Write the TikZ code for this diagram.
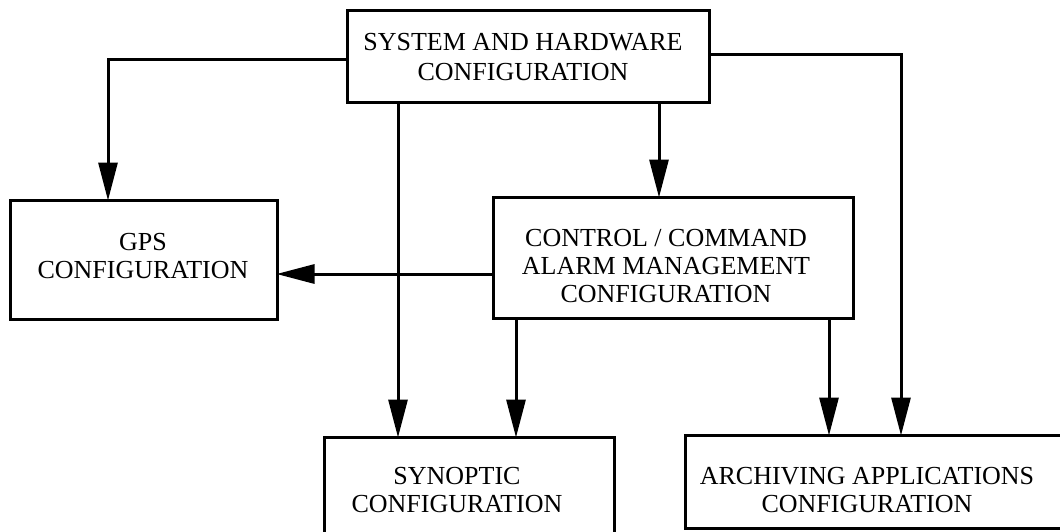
\documentclass[tikz,border=0pt]{standalone}
\usepackage{fontspec}
\setmainfont{Liberation Serif}
\usetikzlibrary{arrows.meta}
\begin{document}
\begin{tikzpicture}[x=1pt,y=-1pt,
  box/.style={draw,line width=3pt,inner sep=0pt,minimum width=#1},
  lbl/.style={inner sep=0pt,align=center,font=\fontsize{26}{28}\selectfont},
  arr/.style={line width=3pt,shorten >=-2pt,-{Triangle[length=38pt,width=19pt]}}]
\useasboundingbox (0,0) rectangle (1060,531);
\clip (0,0) rectangle (1060,531);
% boxes
\node[box=362pt,minimum height=92pt]  (sys)  at (528,56)    {};
\node[box=267pt,minimum height=119pt] (gps)  at (143.5,259.5) {};
\node[box=360pt,minimum height=121pt] (ctrl) at (673,257.5) {};
\node[box=290pt,minimum height=103pt] (syn)  at (469,488.5) {};
\node[box=385pt,minimum height=93pt]  (arch) at (877.5,481.5) {};
% labels
\node[lbl,font=\fontsize{26}{30}\selectfont] (tsys) at (523,57) {SYSTEM AND HARDWARE\\CONFIGURATION};
\node[lbl] (tgps)  at (143,256) {GPS\\CONFIGURATION};
\node[lbl] (tctrl) at (666,266) {CONTROL / COMMAND\\ALARM MANAGEMENT\\CONFIGURATION};
\node[lbl] (tsyn)  at (457,490) {SYNOPTIC\\CONFIGURATION};
\node[lbl] (tarch) at (867,490.5) {ARCHIVING APPLICATIONS\\CONFIGURATION};
% connector x/y positions
\coordinate (xg) at (108,0);
\coordinate (xs1) at (398,0);
\coordinate (xc) at (659,0);
\coordinate (xa2) at (901,0);
\coordinate (xs2) at (516,0);
\coordinate (xa1) at (829,0);
\coordinate (yl) at (0,59);
\coordinate (yr) at (0,54);
\coordinate (yg) at (0,274);
% connectors
\draw[arr] (sys.west |- yl) -| (gps.north -| xg);
\draw[arr] (sys.south -| xs1) -- (syn.north -| xs1);
\draw[arr] (sys.south -| xc) -- (ctrl.north -| xc);
\draw[arr] (sys.east |- yr) -| (arch.north -| xa2);
\draw[arr] (ctrl.west |- yg) -- (gps.east |- yg);
\draw[arr] (ctrl.south -| xs2) -- (syn.north -| xs2);
\draw[arr] (ctrl.south -| xa1) -- (arch.north -| xa1);
\end{tikzpicture}
\end{document}
